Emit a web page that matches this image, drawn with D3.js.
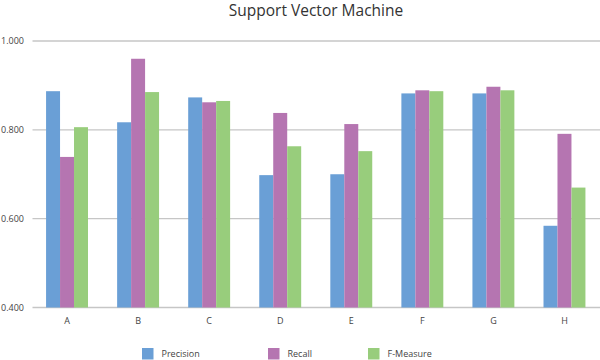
<!DOCTYPE html>
<html><head><meta charset="utf-8">
<script src="https://cdn.jsdelivr.net/npm/d3@7"></script>
<style>
body{margin:0;background:#fff;}
svg{display:block;font-family:"Open Sans",sans-serif;}
</style></head>
<body><svg id="c" width="600" height="360"></svg>
<script>
const categories = ["A","B","C","D","E","F","G","H"];
const series = ["Precision","Recall","F-Measure"];
const precision = [0.887,0.817,0.873,0.698,0.700,0.882,0.882,0.584];
const recall    = [0.739,0.960,0.862,0.838,0.813,0.889,0.897,0.791];
const fmeasure  = [0.806,0.885,0.865,0.763,0.752,0.887,0.889,0.670];
const yTicks = [0.4,0.6,0.8,1.0];
const colors = ["#6a9fd6","#b575b1","#98cd7c"];

const values = [precision, recall, fmeasure];
const svg = d3.select("#c");

const x0 = d3.scaleBand().domain(categories).range([31.5,600]).paddingInner(0.41).paddingOuter(0.205);
const x1 = d3.scaleBand().domain(series).range([0,x0.bandwidth()]);
const y = d3.scaleLinear().domain([0.4,1.0]).range([307.5,41]);

// title
svg.append("text").attr("x",316).attr("y",16).attr("text-anchor","middle")
  .attr("font-size",15.5).attr("fill","#333").text("Support Vector Machine");

// gridlines
svg.append("g").selectAll("line").data(yTicks).join("line")
  .attr("x1",32.5).attr("x2",600)
  .attr("y1",d=>y(d)).attr("y2",d=>y(d))
  .attr("stroke","#c6c6c6").attr("stroke-width",1.3);

// y labels
svg.append("g").selectAll("text").data(yTicks).join("text")
  .attr("x",24).attr("y",d=>y(d)).attr("dy","0.35em").attr("text-anchor","end")
  .attr("font-size",9).attr("fill","#444").text(d=>d3.format(".3f")(d));

// bars
const g = svg.append("g");
categories.forEach((c,i)=>{
  series.forEach((s,j)=>{
    const v = values[j][i];
    g.append("rect")
      .attr("x",x0(c)+x1(s)).attr("width",x1.bandwidth())
      .attr("y",y(v)).attr("height",y(0.4)-y(v))
      .attr("fill",colors[j]);
  });
});

// x labels
svg.append("g").selectAll("text").data(categories).join("text")
  .attr("x",d=>x0(d)+x0.bandwidth()/2).attr("y",321).attr("dy","0.35em")
  .attr("text-anchor","middle").attr("font-size",9).attr("fill","#444").text(d=>d);

// legend
const legX = [142,268,368];
series.forEach((s,j)=>{
  svg.append("rect").attr("x",legX[j]).attr("y",348).attr("width",11.5).attr("height",11.5).attr("fill",colors[j]);
  svg.append("text").attr("x",legX[j]+19.5).attr("y",354).attr("dy","0.35em")
    .attr("font-size",9).attr("fill","#444").text(s);
});
</script></body></html>
